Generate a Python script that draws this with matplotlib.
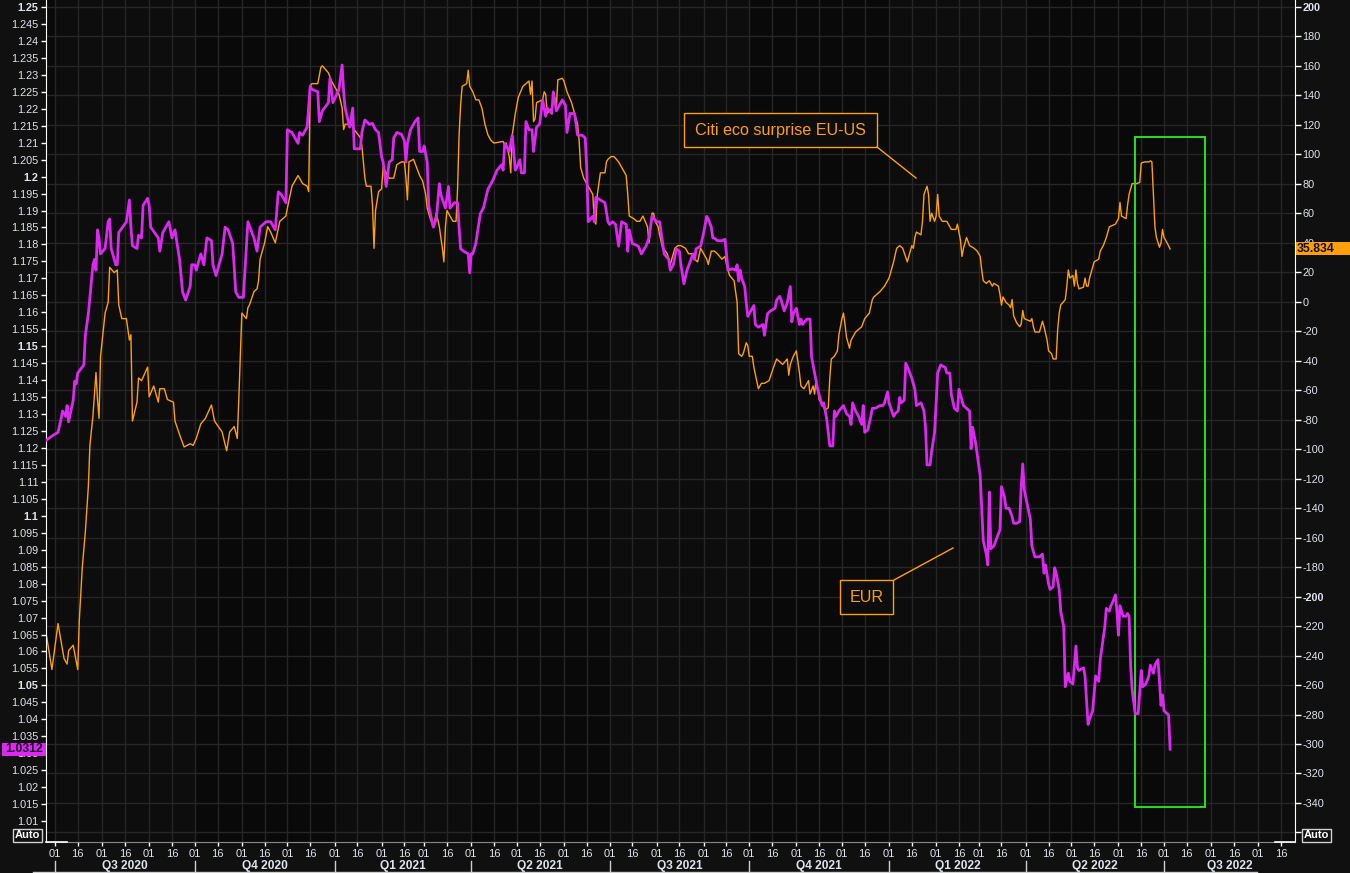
import matplotlib

matplotlib.use("Agg")
import matplotlib.pyplot as plt
import matplotlib.dates as mdates
import matplotlib.transforms as mtransforms
from matplotlib.patches import Rectangle
from matplotlib.lines import Line2D
import numpy as np
import pandas as pd

W, H = 1350, 873

# EUR spot (left axis)
eur_dates = [
    "2020-06-25", "2020-06-30", "2020-07-03", "2020-07-05", "2020-07-06", "2020-07-08", "2020-07-09", "2020-07-10",
    "2020-07-13", "2020-07-14", "2020-07-15", "2020-07-16", "2020-07-20", "2020-07-21", "2020-07-23", "2020-07-24",
    "2020-07-26", "2020-07-27", "2020-07-28", "2020-07-29", "2020-07-30", "2020-07-31", "2020-08-03", "2020-08-05",
    "2020-08-06", "2020-08-07", "2020-08-10", "2020-08-11", "2020-08-12", "2020-08-17", "2020-08-19", "2020-08-20",
    "2020-08-21", "2020-08-24", "2020-08-25", "2020-08-27", "2020-08-28", "2020-08-31", "2020-09-01", "2020-09-02",
    "2020-09-07", "2020-09-08", "2020-09-10", "2020-09-14", "2020-09-16", "2020-09-18", "2020-09-21", "2020-09-23",
    "2020-09-25", "2020-09-28", "2020-09-29", "2020-10-01", "2020-10-02", "2020-10-05", "2020-10-07", "2020-10-09",
    "2020-10-12", "2020-10-13", "2020-10-15", "2020-10-19", "2020-10-21", "2020-10-23", "2020-10-26", "2020-10-28",
    "2020-10-30", "2020-11-02", "2020-11-05", "2020-11-09", "2020-11-11", "2020-11-13", "2020-11-17", "2020-11-20",
    "2020-11-23", "2020-11-25", "2020-11-27", "2020-11-30", "2020-12-01", "2020-12-04", "2020-12-08", "2020-12-09",
    "2020-12-11", "2020-12-14", "2020-12-16", "2020-12-17", "2020-12-21", "2020-12-22", "2020-12-24", "2020-12-28",
    "2020-12-29", "2020-12-31", "2021-01-04", "2021-01-06", "2021-01-07", "2021-01-08", "2021-01-11", "2021-01-13",
    "2021-01-14", "2021-01-18", "2021-01-19", "2021-01-21", "2021-01-24", "2021-01-26", "2021-01-28", "2021-01-30",
    "2021-02-01", "2021-02-02", "2021-02-04", "2021-02-06", "2021-02-08", "2021-02-09", "2021-02-11", "2021-02-14",
    "2021-02-16", "2021-02-17", "2021-02-18", "2021-02-20", "2021-02-23", "2021-02-25", "2021-02-26", "2021-02-28",
    "2021-03-01", "2021-03-03", "2021-03-04", "2021-03-07", "2021-03-09", "2021-03-11", "2021-03-12", "2021-03-15",
    "2021-03-17", "2021-03-18", "2021-03-21", "2021-03-23", "2021-03-24", "2021-03-25", "2021-03-27", "2021-03-30",
    "2021-03-31", "2021-04-01", "2021-04-02", "2021-04-04", "2021-04-07", "2021-04-09", "2021-04-12", "2021-04-15",
    "2021-04-18", "2021-04-21", "2021-04-22", "2021-04-23", "2021-04-26", "2021-04-28", "2021-04-30", "2021-05-01",
    "2021-05-03", "2021-05-04", "2021-05-06", "2021-05-07", "2021-05-09", "2021-05-11", "2021-05-12", "2021-05-14",
    "2021-05-16", "2021-05-18", "2021-05-20", "2021-05-21", "2021-05-24", "2021-05-25", "2021-05-27", "2021-05-29",
    "2021-05-31", "2021-06-02", "2021-06-03", "2021-06-05", "2021-06-08", "2021-06-10", "2021-06-13", "2021-06-15",
    "2021-06-16", "2021-06-17", "2021-06-20", "2021-06-21", "2021-06-22", "2021-06-25", "2021-06-28", "2021-06-30",
    "2021-07-01", "2021-07-03", "2021-07-05", "2021-07-07", "2021-07-09", "2021-07-12", "2021-07-13", "2021-07-14",
    "2021-07-16", "2021-07-20", "2021-07-22", "2021-07-25", "2021-07-27", "2021-07-29", "2021-08-01", "2021-08-03",
    "2021-08-04", "2021-08-06", "2021-08-09", "2021-08-10", "2021-08-12", "2021-08-14", "2021-08-16", "2021-08-17",
    "2021-08-19", "2021-08-21", "2021-08-23", "2021-08-25", "2021-08-26", "2021-08-27", "2021-08-30", "2021-09-01",
    "2021-09-03", "2021-09-04", "2021-09-06", "2021-09-07", "2021-09-08", "2021-09-10", "2021-09-13", "2021-09-15",
    "2021-09-16", "2021-09-17", "2021-09-20", "2021-09-22", "2021-09-23", "2021-09-24", "2021-09-25", "2021-09-26",
    "2021-09-28", "2021-09-29", "2021-09-30", "2021-10-02", "2021-10-04", "2021-10-05", "2021-10-07", "2021-10-10",
    "2021-10-11", "2021-10-13", "2021-10-15", "2021-10-18", "2021-10-19", "2021-10-21", "2021-10-22", "2021-10-24",
    "2021-10-26", "2021-10-28", "2021-10-29", "2021-10-30", "2021-10-31", "2021-11-01", "2021-11-03", "2021-11-04",
    "2021-11-05", "2021-11-08", "2021-11-10", "2021-11-11", "2021-11-13", "2021-11-15", "2021-11-18", "2021-11-19",
    "2021-11-21", "2021-11-23", "2021-11-25", "2021-11-26", "2021-11-27", "2021-11-29", "2021-12-02", "2021-12-04",
    "2021-12-06", "2021-12-07", "2021-12-08", "2021-12-10", "2021-12-12", "2021-12-14", "2021-12-15", "2021-12-16",
    "2021-12-18", "2021-12-20", "2021-12-21", "2021-12-23", "2021-12-26", "2021-12-28", "2021-12-29", "2021-12-31",
    "2022-01-01", "2022-01-04", "2022-01-05", "2022-01-07", "2022-01-08", "2022-01-09", "2022-01-11", "2022-01-12",
    "2022-01-14", "2022-01-16", "2022-01-18", "2022-01-19", "2022-01-22", "2022-01-24", "2022-01-25", "2022-01-26",
    "2022-01-28", "2022-01-29", "2022-01-31", "2022-02-02", "2022-02-04", "2022-02-07", "2022-02-08", "2022-02-10",
    "2022-02-11", "2022-02-13", "2022-02-15", "2022-02-16", "2022-02-18", "2022-02-19", "2022-02-21", "2022-02-23",
    "2022-02-24", "2022-02-25", "2022-02-27", "2022-03-02", "2022-03-04", "2022-03-06", "2022-03-07", "2022-03-08",
    "2022-03-09", "2022-03-11", "2022-03-13", "2022-03-15", "2022-03-16", "2022-03-18", "2022-03-19", "2022-03-21",
    "2022-03-23", "2022-03-24", "2022-03-26", "2022-03-28", "2022-03-29", "2022-03-30", "2022-03-31", "2022-04-01",
    "2022-04-04", "2022-04-05", "2022-04-07", "2022-04-10", "2022-04-12", "2022-04-13", "2022-04-14", "2022-04-16",
    "2022-04-17", "2022-04-19", "2022-04-20", "2022-04-21", "2022-04-23", "2022-04-24", "2022-04-26", "2022-04-27",
    "2022-04-29", "2022-04-30", "2022-05-02", "2022-05-04", "2022-05-05", "2022-05-06", "2022-05-09", "2022-05-10",
    "2022-05-12", "2022-05-13", "2022-05-15", "2022-05-17", "2022-05-19", "2022-05-20", "2022-05-21", "2022-05-23",
    "2022-05-24", "2022-05-26", "2022-05-27", "2022-05-28", "2022-05-30", "2022-05-31", "2022-06-01", "2022-06-02",
    "2022-06-04", "2022-06-06", "2022-06-07", "2022-06-08", "2022-06-09", "2022-06-10", "2022-06-12", "2022-06-14",
    "2022-06-15", "2022-06-16", "2022-06-17", "2022-06-19", "2022-06-21", "2022-06-22", "2022-06-24", "2022-06-25",
    "2022-06-27", "2022-06-28", "2022-06-29", "2022-06-30", "2022-07-01", "2022-07-03", "2022-07-04", "2022-07-05",
]
eur_values = [
    1.1222, 1.1238, 1.1246, 1.1285, 1.1309, 1.1293, 1.1325, 1.1277,
    1.1341, 1.1397, 1.1389, 1.1421, 1.1445, 1.1532, 1.1596, 1.1644,
    1.1740, 1.1756, 1.1724, 1.1843, 1.1819, 1.1772, 1.1788, 1.1867,
    1.1875, 1.1788, 1.1740, 1.1740, 1.1835, 1.1867, 1.1931, 1.1851,
    1.1796, 1.1788, 1.1827, 1.1819, 1.1915, 1.1936, 1.1915, 1.1851,
    1.1819, 1.1780, 1.1835, 1.1867, 1.1819, 1.1843, 1.1756, 1.1660,
    1.1636, 1.1676, 1.1740, 1.1740, 1.1724, 1.1772, 1.1740, 1.1819,
    1.1811, 1.1740, 1.1708, 1.1772, 1.1851, 1.1843, 1.1803, 1.1660,
    1.1644, 1.1644, 1.1867, 1.1819, 1.1780, 1.1851, 1.1867, 1.1867,
    1.1843, 1.1955, 1.1947, 1.1923, 1.2138, 1.2130, 1.2098, 1.2130,
    1.2122, 1.2146, 1.2266, 1.2258, 1.2250, 1.2162, 1.2194, 1.2218,
    1.2290, 1.2218, 1.2258, 1.2329, 1.2250, 1.2202, 1.2146, 1.2202,
    1.2082, 1.2082, 1.2130, 1.2167, 1.2154, 1.2157, 1.2138, 1.2130,
    1.2058, 1.2043, 1.1971, 1.2043, 1.2050, 1.2114, 1.2130, 1.2125,
    1.2106, 1.2043, 1.2098, 1.2138, 1.2162, 1.2173, 1.2074, 1.2074,
    1.2090, 1.2043, 1.1915, 1.1851, 1.1875, 1.1979, 1.1947, 1.1907,
    1.1971, 1.1907, 1.1923, 1.1923, 1.1851, 1.1787, 1.1780, 1.1772,
    1.1716, 1.1772, 1.1772, 1.1803, 1.1891, 1.1907, 1.1963, 1.1987,
    1.2019, 1.2035, 1.2019, 1.2098, 1.2074, 1.2122, 1.2019, 1.2027,
    1.2050, 1.2011, 1.2011, 1.2162, 1.2138, 1.2138, 1.2074, 1.2146,
    1.2154, 1.2226, 1.2178, 1.2202, 1.2186, 1.2250, 1.2194, 1.2210,
    1.2226, 1.2210, 1.2130, 1.2186, 1.2186, 1.2122, 1.2122, 1.2114,
    1.2027, 1.1867, 1.1883, 1.1867, 1.1939, 1.1931, 1.1923, 1.1867,
    1.1859, 1.1867, 1.1859, 1.1795, 1.1867, 1.1859, 1.1780, 1.1843,
    1.1803, 1.1795, 1.1772, 1.1795, 1.1819, 1.1883, 1.1867, 1.1867,
    1.1835, 1.1772, 1.1756, 1.1724, 1.1740, 1.1787, 1.1780, 1.1740,
    1.1684, 1.1724, 1.1748, 1.1772, 1.1756, 1.1787, 1.1795, 1.1835,
    1.1883, 1.1875, 1.1851, 1.1819, 1.1819, 1.1811, 1.1811, 1.1815,
    1.1772, 1.1724, 1.1728, 1.1724, 1.1740, 1.1692, 1.1724, 1.1700,
    1.1676, 1.1628, 1.1588, 1.1604, 1.1620, 1.1564, 1.1556, 1.1564,
    1.1532, 1.1596, 1.1604, 1.1612, 1.1636, 1.1647, 1.1636, 1.1604,
    1.1628, 1.1676, 1.1572, 1.1596, 1.1604, 1.1612, 1.1564, 1.1580,
    1.1564, 1.1580, 1.1580, 1.1469, 1.1421, 1.1373, 1.1325, 1.1333,
    1.1285, 1.1206, 1.1206, 1.1309, 1.1293, 1.1309, 1.1325, 1.1301,
    1.1293, 1.1269, 1.1333, 1.1309, 1.1293, 1.1269, 1.1325, 1.1246,
    1.1253, 1.1293, 1.1317, 1.1317, 1.1325, 1.1325, 1.1333, 1.1365,
    1.1333, 1.1293, 1.1301, 1.1309, 1.1349, 1.1333, 1.1341, 1.1450,
    1.1429, 1.1405, 1.1373, 1.1325, 1.1333, 1.1309, 1.1261, 1.1150,
    1.1150, 1.1190, 1.1246, 1.1421, 1.1445, 1.1437, 1.1421, 1.1421,
    1.1357, 1.1317, 1.1309, 1.1373, 1.1341, 1.1325, 1.1317, 1.1309,
    1.1198, 1.1261, 1.1214, 1.1118, 1.0927, 1.0887, 1.0855, 1.1070,
    1.0903, 1.0911, 1.0935, 1.0959, 1.1086, 1.1054, 1.1022, 1.1022,
    1.0998, 1.0978, 1.0978, 1.0983, 1.1086, 1.1153, 1.1078, 1.1054,
    1.0990, 1.0911, 1.0879, 1.0879, 1.0887, 1.0831, 1.0855, 1.0799,
    1.0783, 1.0791, 1.0847, 1.0831, 1.0783, 1.0719, 1.0672, 1.0496,
    1.0536, 1.0512, 1.0504, 1.0616, 1.0552, 1.0544, 1.0552, 1.0528,
    1.0385, 1.0401, 1.0425, 1.0528, 1.0512, 1.0576, 1.0608, 1.0672,
    1.0727, 1.0719, 1.0735, 1.0743, 1.0767, 1.0719, 1.0648, 1.0735,
    1.0704, 1.0704, 1.0712, 1.0704, 1.0560, 1.0488, 1.0417, 1.0417,
    1.0480, 1.0544, 1.0496, 1.0504, 1.0528, 1.0560, 1.0536, 1.0560,
    1.0576, 1.0512, 1.0441, 1.0472, 1.0425, 1.0417, 1.0413, 1.0312,
]

# Citi eco surprise EU-US (right axis)
citi_dates = [
    "2020-06-25", "2020-06-29", "2020-07-03", "2020-07-07", "2020-07-09", "2020-07-10", "2020-07-13", "2020-07-16",
    "2020-07-17", "2020-07-19", "2020-07-21", "2020-07-23", "2020-07-24", "2020-07-26", "2020-07-28", "2020-07-29",
    "2020-07-30", "2020-07-31", "2020-08-03", "2020-08-05", "2020-08-06", "2020-08-09", "2020-08-11", "2020-08-12",
    "2020-08-14", "2020-08-17", "2020-08-19", "2020-08-20", "2020-08-21", "2020-08-24", "2020-08-25", "2020-08-27",
    "2020-08-31", "2020-09-01", "2020-09-04", "2020-09-07", "2020-09-08", "2020-09-11", "2020-09-13", "2020-09-17",
    "2020-09-18", "2020-09-21", "2020-09-24", "2020-09-28", "2020-09-30", "2020-10-02", "2020-10-05", "2020-10-08",
    "2020-10-12", "2020-10-14", "2020-10-19", "2020-10-22", "2020-10-24", "2020-10-27", "2020-10-29", "2020-10-30",
    "2020-11-01", "2020-11-04", "2020-11-05", "2020-11-06", "2020-11-09", "2020-11-11", "2020-11-12", "2020-11-13",
    "2020-11-16", "2020-11-18", "2020-11-20", "2020-11-23", "2020-11-26", "2020-11-30", "2020-12-01", "2020-12-04",
    "2020-12-08", "2020-12-11", "2020-12-14", "2020-12-15", "2020-12-16", "2020-12-17", "2020-12-21", "2020-12-23",
    "2020-12-24", "2020-12-28", "2020-12-30", "2021-01-01", "2021-01-04", "2021-01-06", "2021-01-07", "2021-01-08",
    "2021-01-12", "2021-01-14", "2021-01-18", "2021-01-19", "2021-01-21", "2021-01-22", "2021-01-25", "2021-01-26",
    "2021-01-27", "2021-01-28", "2021-01-30", "2021-02-01", "2021-02-02", "2021-02-04", "2021-02-06", "2021-02-09",
    "2021-02-11", "2021-02-14", "2021-02-16", "2021-02-17", "2021-02-18", "2021-02-19", "2021-02-22", "2021-02-24",
    "2021-02-26", "2021-02-28", "2021-03-02", "2021-03-03", "2021-03-05", "2021-03-07", "2021-03-09", "2021-03-11",
    "2021-03-13", "2021-03-14", "2021-03-15", "2021-03-16", "2021-03-18", "2021-03-20", "2021-03-22", "2021-03-23",
    "2021-03-24", "2021-03-25", "2021-03-26", "2021-03-29", "2021-03-30", "2021-03-31", "2021-04-02", "2021-04-04",
    "2021-04-06", "2021-04-08", "2021-04-10", "2021-04-12", "2021-04-14", "2021-04-16", "2021-04-20", "2021-04-22",
    "2021-04-23", "2021-04-24", "2021-04-26", "2021-04-27", "2021-04-28", "2021-04-30", "2021-05-02", "2021-05-05",
    "2021-05-09", "2021-05-10", "2021-05-11", "2021-05-12", "2021-05-13", "2021-05-14", "2021-05-18", "2021-05-19",
    "2021-05-20", "2021-05-21", "2021-05-24", "2021-05-26", "2021-05-27", "2021-05-28", "2021-05-31", "2021-06-01",
    "2021-06-03", "2021-06-06", "2021-06-08", "2021-06-10", "2021-06-11", "2021-06-12", "2021-06-14", "2021-06-16",
    "2021-06-18", "2021-06-20", "2021-06-21", "2021-06-22", "2021-06-23", "2021-06-25", "2021-06-28", "2021-06-29",
    "2021-06-30", "2021-07-02", "2021-07-04", "2021-07-07", "2021-07-10", "2021-07-12", "2021-07-13", "2021-07-14",
    "2021-07-17", "2021-07-19", "2021-07-21", "2021-07-23", "2021-07-26", "2021-07-27", "2021-07-29", "2021-07-30",
    "2021-07-31", "2021-08-02", "2021-08-03", "2021-08-05", "2021-08-06", "2021-08-08", "2021-08-10", "2021-08-12",
    "2021-08-13", "2021-08-15", "2021-08-17", "2021-08-20", "2021-08-22", "2021-08-25", "2021-08-26", "2021-08-28",
    "2021-08-30", "2021-09-01", "2021-09-03", "2021-09-04", "2021-09-06", "2021-09-08", "2021-09-10", "2021-09-13",
    "2021-09-15", "2021-09-16", "2021-09-18", "2021-09-21", "2021-09-23", "2021-09-24", "2021-09-26", "2021-09-27",
    "2021-09-29", "2021-09-30", "2021-10-01", "2021-10-03", "2021-10-04", "2021-10-07", "2021-10-09", "2021-10-11",
    "2021-10-14", "2021-10-17", "2021-10-19", "2021-10-21", "2021-10-23", "2021-10-26", "2021-10-27", "2021-10-28",
    "2021-10-30", "2021-11-01", "2021-11-02", "2021-11-03", "2021-11-04", "2021-11-06", "2021-11-09", "2021-11-10",
    "2021-11-12", "2021-11-13", "2021-11-14", "2021-11-16", "2021-11-18", "2021-11-20", "2021-11-22", "2021-11-23",
    "2021-11-24", "2021-11-26", "2021-11-28", "2021-11-29", "2021-12-01", "2021-12-02", "2021-12-03", "2021-12-04",
    "2021-12-05", "2021-12-06", "2021-12-07", "2021-12-10", "2021-12-12", "2021-12-14", "2021-12-16", "2021-12-19",
    "2021-12-21", "2021-12-22", "2021-12-24", "2021-12-26", "2021-12-29", "2022-01-01", "2022-01-03", "2022-01-04",
    "2022-01-06", "2022-01-08", "2022-01-10", "2022-01-13", "2022-01-15", "2022-01-16", "2022-01-17", "2022-01-18",
    "2022-01-19", "2022-01-22", "2022-01-23", "2022-01-24", "2022-01-26", "2022-01-27", "2022-01-28", "2022-01-29",
    "2022-01-31", "2022-02-01", "2022-02-02", "2022-02-03", "2022-02-05", "2022-02-08", "2022-02-09", "2022-02-11",
    "2022-02-13", "2022-02-14", "2022-02-15", "2022-02-17", "2022-02-18", "2022-02-19", "2022-02-21", "2022-02-23",
    "2022-02-26", "2022-02-28", "2022-03-02", "2022-03-03", "2022-03-04", "2022-03-06", "2022-03-08", "2022-03-10",
    "2022-03-11", "2022-03-14", "2022-03-15", "2022-03-16", "2022-03-17", "2022-03-19", "2022-03-21", "2022-03-22",
    "2022-03-23", "2022-03-24", "2022-03-26", "2022-03-28", "2022-03-29", "2022-03-30", "2022-03-31", "2022-04-04",
    "2022-04-05", "2022-04-06", "2022-04-07", "2022-04-10", "2022-04-11", "2022-04-12", "2022-04-13", "2022-04-15",
    "2022-04-16", "2022-04-18", "2022-04-19", "2022-04-21", "2022-04-22", "2022-04-23", "2022-04-24", "2022-04-27",
    "2022-04-28", "2022-04-29", "2022-04-30", "2022-05-02", "2022-05-03", "2022-05-04", "2022-05-05", "2022-05-06",
    "2022-05-09", "2022-05-10", "2022-05-11", "2022-05-12", "2022-05-13", "2022-05-15", "2022-05-16", "2022-05-19",
    "2022-05-20", "2022-05-22", "2022-05-24", "2022-05-26", "2022-05-30", "2022-06-01", "2022-06-02", "2022-06-03",
    "2022-06-06", "2022-06-07", "2022-06-08", "2022-06-10", "2022-06-13", "2022-06-15", "2022-06-16", "2022-06-18",
    "2022-06-21", "2022-06-22", "2022-06-23", "2022-06-24", "2022-06-25", "2022-06-26", "2022-06-28", "2022-06-29",
    "2022-06-30", "2022-07-01", "2022-07-03", "2022-07-05",
]
citi_values = [
    -223.8, -249.5, -218.3, -242.1, -245.8, -236.6, -233.0, -249.5,
    -216.5, -179.9, -156.0, -124.9, -97.4, -77.3, -48.0, -66.3,
    -79.1, -37.0, -7.7, -0.4, 23.4, 19.8, 21.6, -2.2,
    -11.4, -11.4, -26.0, -22.3, -80.9, -68.1, -51.7, -53.5,
    -44.3, -64.5, -57.1, -68.1, -59.0, -59.0, -66.3, -68.1,
    -80.9, -90.1, -98.5, -96.3, -97.4, -92.7, -82.8, -79.1,
    -70.0, -80.9, -88.3, -101.1, -88.3, -84.6, -92.7, -66.3,
    -7.7, -11.4, -4.0, -2.2, 6.9, 8.8, 14.3, 28.9,
    40.0, 51.0, 47.3, 40.0, 54.6, 58.2, 63.7, 78.4,
    85.7, 80.2, 78.4, 74.7, 146.2, 148.0, 148.0, 159.0,
    160.1, 155.3, 149.8, 146.2, 140.7, 131.5, 116.8, 120.5,
    120.5, 116.8, 111.4, 105.9, 83.9, 78.4, 78.4, 65.6,
    36.3, 61.9, 74.7, 76.6, 91.2, 87.5, 83.9, 83.9,
    93.0, 94.9, 94.9, 83.9, 69.2, 94.9, 96.7, 91.2,
    85.7, 82.0, 72.9, 63.7, 56.4, 50.9, 60.1, 50.9,
    36.3, 27.1, 50.9, 61.9, 58.2, 54.6, 54.6, 76.6,
    113.2, 133.3, 146.2, 148.0, 157.1, 146.2, 142.5, 137.0,
    137.0, 131.5, 120.5, 113.2, 109.5, 107.7, 108.4, 108.8,
    105.9, 107.7, 98.5, 87.5, 113.2, 127.8, 138.8, 146.2,
    149.8, 140.7, 149.8, 122.3, 124.2, 135.2, 137.0, 142.5,
    140.7, 127.8, 131.5, 138.8, 131.5, 150.6, 151.6, 149.8,
    142.5, 135.2, 127.8, 120.5, 109.5, 91.2, 83.9, 80.2,
    76.6, 72.9, 54.6, 52.7, 72.9, 87.5, 87.5, 94.9,
    96.7, 98.5, 98.5, 94.9, 89.4, 85.7, 72.9, 58.2,
    56.4, 54.6, 54.6, 58.2, 50.9, 40.0, 60.1, 60.1,
    54.6, 50.9, 45.4, 36.3, 35.5, 32.6, 25.3, 32.6,
    36.3, 38.1, 38.1, 36.3, 32.6, 32.6, 28.9, 27.1,
    36.3, 32.6, 28.9, 25.3, 34.4, 34.4, 32.6, 28.9,
    30.8, 25.3, 17.9, 14.3, -0.4, -35.2, -37.0, -35.2,
    -27.8, -29.7, -37.0, -37.0, -44.3, -59.0, -55.3, -55.3,
    -53.5, -44.3, -38.8, -40.7, -42.5, -38.8, -49.8, -42.5,
    -37.0, -33.3, -40.7, -48.0, -57.1, -59.0, -53.5, -62.6,
    -57.1, -62.6, -51.7, -66.3, -70.0, -73.6, -71.8, -51.7,
    -38.8, -37.0, -33.3, -22.3, -11.4, -7.7, -15.0, -24.2,
    -27.8, -31.5, -26.0, -20.5, -18.7, -16.9, -11.4, -7.7,
    1.5, 3.3, 5.1, 6.9, 10.6, 16.1, 23.4, 27.1,
    36.3, 38.1, 36.3, 27.1, 34.4, 38.1, 36.3, 43.6,
    47.3, 45.4, 54.6, 72.9, 78.4, 72.9, 54.6, 60.1,
    54.6, 58.2, 72.9, 58.2, 54.6, 54.6, 52.7, 49.1,
    49.1, 49.1, 52.7, 41.8, 30.8, 36.3, 43.6, 38.1,
    36.3, 34.4, 30.8, 21.6, 14.3, 12.5, 14.3, 10.6,
    12.5, 10.6, 5.1, -2.2, 3.3, -0.4, -2.2, -4.0,
    1.5, -9.5, -14.3, -16.9, -15.0, -5.9, -11.4, -13.2,
    -11.4, -16.9, -20.5, -20.5, -16.9, -13.2, -16.9, -26.0,
    -33.3, -35.2, -38.8, -38.8, -18.7, -7.7, -2.2, 1.5,
    10.6, 21.6, 16.1, 17.9, 10.6, 21.6, 12.5, 8.8,
    9.9, 16.1, 10.6, 10.6, 16.1, 23.4, 27.1, 28.9,
    34.4, 38.1, 43.6, 50.9, 52.7, 56.4, 67.4, 58.2,
    56.4, 65.6, 72.9, 80.2, 80.2, 81.0, 94.1, 94.9,
    94.9, 95.6, 94.9, 72.9, 50.9, 43.6, 37.0, 40.0,
    49.1, 43.6, 40.0, 35.834,
]

# axis ranges / ticks
eur_ticks = np.round(np.arange(1.010, 1.2501, 0.005), 3)
citi_ticks = np.arange(-360, 201, 20)
x_start, x_end = "2020-07-01", "2022-09-16"
box_dates = ("2022-06-12", "2022-07-28")
box_values = (-342.7, 111.8)

BG = "#101010"
PLOT_BG = "#0d0d0d"
DARK_Q = "#090909"
GRID = "#262626"
TXT = "#dfe3ee"
MAG = "#dc28f0"
ORG = "#ffa00a"
GREEN = "#22e022"

plt.rcParams["font.family"] = ["Liberation Sans", "DejaVu Sans"]


def fx(x):
    return x / W


def fy(y):
    return 1 - y / H


fig = plt.figure(figsize=(W / 100, H / 100), dpi=100)
fig.patch.set_facecolor(BG)

# host axes carries the x axis, the grid and the right (Citi) scale
ax = fig.add_axes([fx(46), fy(842), (1295 - 46) / W, 842 / H])
ax.set_facecolor(PLOT_BG)
ax_eur = ax.twinx()
ax.yaxis.tick_right()
ax_eur.yaxis.tick_left()

xs = mdates.date2num(pd.Timestamp(x_start)) - 5.9
xe = mdates.date2num(pd.Timestamp(x_end)) + 9.2
ax.set_xlim(xs, xe)
ax.set_ylim(-366.5, 204.75)
ax_eur.set_ylim(1.00384, 1.25206)

# alternating quarter bands
q_starts = pd.date_range("2020-04-01", "2022-10-01", freq="QS")
for i in range(len(q_starts) - 1):
    if i % 2 == 0:
        ax.axvspan(mdates.date2num(q_starts[i]), mdates.date2num(q_starts[i + 1]),
                   color=DARK_Q, lw=0, zorder=0.1)

# x ticks on the 1st and 16th
months = pd.date_range(x_start, "2022-09-01", freq="MS")
xticks = sorted(list(months) + [m + pd.Timedelta(days=15) for m in months])
ax.set_xticks(mdates.date2num(xticks))
ax.set_xticklabels(["01" if d.day == 1 else "16" for d in xticks])

ax.set_yticks(citi_ticks)
ax.set_yticklabels(["" if v == -360 else str(v) for v in citi_ticks])
for tick, v in zip(ax.yaxis.get_major_ticks(), citi_ticks):
    if v in (200, -200):
        tick.label2.set_fontweight("bold")

ax_eur.set_yticks(eur_ticks)
ax_eur.set_yticklabels([f"{v:.3f}".rstrip("0").rstrip(".") for v in eur_ticks])
for tick, v in zip(ax_eur.yaxis.get_major_ticks(), eur_ticks):
    if round(v * 1000) % 50 == 0:
        tick.label1.set_fontweight("bold")

ax.tick_params(axis="x", length=3, width=1, color="white", labelcolor=TXT, labelsize=8, pad=2)
ax.tick_params(axis="y", length=4, width=1, color="white", labelcolor=TXT, labelsize=7.8, pad=1.5,
               left=False, right=True, labelleft=False, labelright=True)
ax_eur.tick_params(axis="y", length=3.5, width=1, color="white", labelcolor=TXT, labelsize=7.8, pad=2,
                   left=True, right=False, labelleft=True, labelright=False)

ax.grid(True, color=GRID, linewidth=1)
ax.set_axisbelow(True)

for side in ("top", "left"):
    ax.spines[side].set_visible(False)
ax.spines["right"].set_color("white")
ax.spines["bottom"].set_color("#8a8a8a")
for side in ("top", "right", "bottom"):
    ax_eur.spines[side].set_visible(False)
ax_eur.spines["left"].set_color("white")

# series
citi_x = mdates.date2num(pd.to_datetime(citi_dates))
eur_x = mdates.date2num(pd.to_datetime(eur_dates))
ax.plot(citi_x, citi_values, color=ORG, lw=1.0, zorder=3)
ax_eur.plot(eur_x, eur_values, color=MAG, lw=2.0, zorder=3)

# highlight box
b0, b1 = mdates.date2num(pd.Timestamp(box_dates[0])), mdates.date2num(pd.Timestamp(box_dates[1]))
ax.add_patch(Rectangle((b0, box_values[0]), b1 - b0, box_values[1] - box_values[0],
                       fill=False, ec=GREEN, lw=1.4, zorder=4))

# last value tags (figure x, data y)
tr_eur = mtransforms.blended_transform_factory(fig.transFigure, ax_eur.transData)
tr_citi = mtransforms.blended_transform_factory(fig.transFigure, ax.transData)
eur_h = 13 * (1.25206 - 1.00384) / 842
citi_h = 13 * (204.75 + 366.5) / 842
fig.add_artist(Rectangle((fx(2), eur_values[-1] - eur_h / 2), 44 / W, eur_h, transform=tr_eur,
                         fc=MAG, ec="none", zorder=6))
fig.text(fx(24), eur_values[-1], f"{eur_values[-1]:.4f}", transform=tr_eur, ha="center", va="center",
         fontsize=8.8, fontweight="bold", color="#1c0828", zorder=7)
fig.add_artist(Rectangle((fx(1296), citi_values[-1] - citi_h / 2), 54 / W, citi_h, transform=tr_citi,
                         fc=ORG, ec="none", zorder=6))
fig.text(fx(1297), citi_values[-1], f"{citi_values[-1]:.3f}", transform=tr_citi, ha="left", va="center",
         fontsize=8.8, fontweight="bold", color="#111111", zorder=7)

# quarter labels under the date ticks
xt = ax.get_xaxis_transform()
q_list = pd.date_range(x_start, "2022-07-01", freq="QS")
for q in q_list:
    q_end = q + pd.offsets.QuarterBegin(startingMonth=1)
    a = max(mdates.date2num(q), xs)
    b = min(mdates.date2num(q_end), xe)
    ax.text((a + b) / 2, -24 / 842, f"Q{q.quarter} {q.year}", transform=xt, ha="center", va="center",
            fontsize=8.6, fontweight="bold", color=TXT, clip_on=False)
    ax.add_line(Line2D([mdates.date2num(q)] * 2, [-19 / 842, -31 / 842], transform=xt,
                       color="#cfcfcf", lw=1, clip_on=False))

# Auto buttons
for cx in (27.5, 1316.5):
    fig.text(fx(cx), fy(835.5), "Auto", ha="center", va="center", fontsize=8, fontweight="bold",
             color="white", bbox=dict(boxstyle="square,pad=0.12", fc=BG, ec="#cfcfcf", lw=1))

# callouts
for (x0, y0, x1, y1), label in (((684, 113, 877, 147), "Citi eco surprise EU-US"),
                                ((840, 580, 893, 614), "EUR")):
    fig.add_artist(Rectangle((fx(x0), fy(y1)), (x1 - x0) / W, (y1 - y0) / H, transform=fig.transFigure,
                             fill=True, fc="#0d0d0d", ec=ORG, lw=1, zorder=5))
    fig.text(fx((x0 + x1) / 2), fy((y0 + y1) / 2), label, ha="center", va="center",
             fontsize=11.6, color=ORG, zorder=6)
for (x0, y0, x1, y1) in ((877, 147, 916, 178), (894, 580, 953, 548)):
    fig.add_artist(Line2D([fx(x0), fx(x1)], [fy(y0), fy(y1)], transform=fig.transFigure,
                          color=ORG, lw=1, zorder=5))

# white ends of the bottom axis and the scroll strip
for (x0, x1) in ((46, 67), (1275, 1295)):
    fig.add_artist(Line2D([fx(x0), fx(x1)], [fy(842), fy(842)], transform=fig.transFigure, color="white", lw=1.2))
fig.add_artist(Line2D([fx(33), fx(1257)], [fy(872), fy(872)], transform=fig.transFigure, color="#cfcfcf", lw=1))

fig.savefig("out.png", dpi=100, facecolor=fig.get_facecolor())
